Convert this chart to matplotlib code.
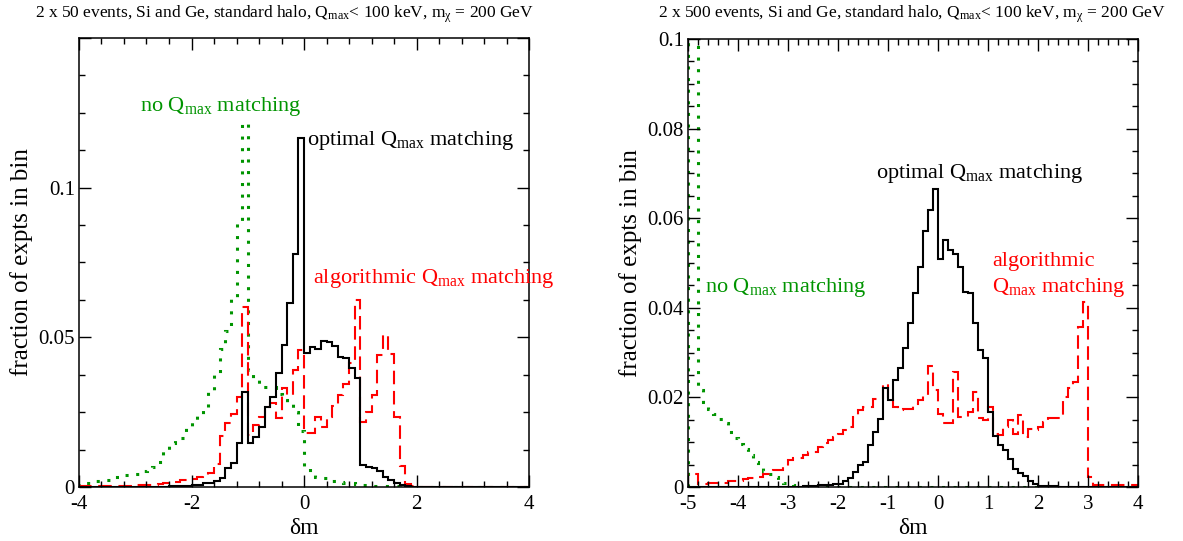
import numpy as np
import matplotlib
matplotlib.use("Agg")
import matplotlib.pyplot as plt
from matplotlib.ticker import MultipleLocator

plt.rcParams["font.family"] = ["Liberation Serif", "DejaVu Serif"]
plt.rcParams["mathtext.fontset"] = "custom"
plt.rcParams["mathtext.rm"] = "Liberation Serif"
plt.rcParams["mathtext.it"] = "Liberation Serif:italic"
plt.rcParams["mathtext.bf"] = "Liberation Serif:bold"
plt.rcParams["axes.unicode_minus"] = False

# ---- left panel: 2 x 50 events, bins of 0.1 from -4 to 4 ----
left_edges = np.round(np.linspace(-4, 4, 81), 2)
left_optimal = [
    0, 0, 0, 0, 0, 0, 0, 0, 0, 0, 0, 0, 0, 0, 0,
    0.0001, 0.0002, 0.0002, 0.0003, 0.0004, 0.0006, 0.0008, 0.0012, 0.0014, 0.002,
    0.003, 0.0062, 0.008, 0.0148, 0.0318, 0.0146, 0.0168, 0.020, 0.0268, 0.030,
    0.038, 0.0474, 0.0616, 0.078, 0.1165, 0.0447, 0.0469, 0.046, 0.0489, 0.0485,
    0.047, 0.0435, 0.043, 0.0397, 0.0363, 0.0073, 0.0068, 0.0062, 0.0052, 0.0034,
    0.0023, 0.0012, 0.0006, 0.0002, 0.0001,
    0, 0, 0, 0, 0, 0, 0, 0, 0, 0, 0, 0, 0, 0, 0, 0, 0, 0, 0, 0,
]
left_algorithmic = [
    0.0003, 0.0003, 0.0002, 0.0002, 0.0003, 0.0003, 0.0004, 0.0004, 0.0005, 0.0005,
    0.0006, 0.0006, 0.0007, 0.0008, 0.001, 0.0012, 0.0015, 0.0018, 0.0022, 0.0025,
    0.0028, 0.0032, 0.004, 0.0047, 0.0078, 0.017, 0.0213, 0.0245, 0.030, 0.0602,
    0.0174, 0.0207, 0.0235, 0.0268, 0.028, 0.023, 0.033, 0.0307, 0.039, 0.0458,
    0.0179, 0.018, 0.0235, 0.0202, 0.0235, 0.027, 0.0307, 0.0345, 0.0413, 0.0625,
    0.0218, 0.0252, 0.0307, 0.0441, 0.0508, 0.0443, 0.0235, 0.0071, 0.001, 0.0004,
    0, 0, 0, 0, 0, 0, 0, 0, 0, 0, 0, 0, 0, 0, 0, 0, 0, 0, 0, 0,
]
left_none = [
    0.0015, 0.0015, 0.002, 0.002, 0.0024, 0.0024, 0.0035, 0.0035, 0.004, 0.004,
    0.0045, 0.0055, 0.0062, 0.0068, 0.0085, 0.0124, 0.0146, 0.0157, 0.0163, 0.020,
    0.0218, 0.024, 0.0263, 0.032, 0.038, 0.046, 0.052, 0.063, 0.089, 0.1215,
    0.039, 0.0357, 0.0335, 0.0335, 0.0335, 0.031, 0.029, 0.028, 0.025, 0.0187,
    0.0063, 0.004, 0.0035, 0.003, 0.0025, 0.002, 0.0017, 0.0014, 0.0012, 0.001,
    0.0008, 0.0006, 0.0005, 0.0004, 0.0003, 0.0002, 0.0002, 0.0001, 0.0001, 0.0001,
    0, 0, 0, 0, 0, 0, 0, 0, 0, 0, 0, 0, 0, 0, 0, 0, 0, 0, 0, 0,
]

# ---- right panel: 2 x 500 events, bins of 0.1 from -5 to 4 ----
right_edges = np.round(np.linspace(-5, 4, 91), 2)
right_optimal = [
    0, 0, 0, 0, 0, 0, 0, 0, 0, 0, 0, 0, 0, 0, 0, 0, 0, 0, 0, 0, 0, 0,
    0.0001, 0.0002, 0.0003, 0.0003, 0.0004, 0.0004, 0.0005, 0.0006, 0.0007, 0.0014,
    0.002, 0.0033, 0.0048, 0.0055, 0.0093, 0.0122, 0.0152, 0.0222, 0.0194, 0.0238,
    0.0265, 0.0311, 0.0365, 0.0434, 0.0492, 0.0571, 0.0618, 0.0665, 0.051, 0.0551,
    0.0529, 0.0521, 0.0492, 0.0436, 0.0432, 0.0365, 0.0306, 0.0287, 0.0168, 0.0113,
    0.0093, 0.0082, 0.0063, 0.0041, 0.0032, 0.0025, 0.0014, 0.0006, 0.0003, 0.0003,
    0.0002, 0.0002, 0.0001, 0.0001,
    0, 0, 0, 0, 0, 0, 0, 0, 0, 0, 0, 0, 0, 0,
]
right_algorithmic = [
    0.003, 0.003, 0.0007, 0.0007, 0.0008, 0.0009, 0.0009, 0.001, 0.0013, 0.0013,
    0.0013, 0.0018, 0.0019, 0.0019, 0.0022, 0.003, 0.003, 0.0039, 0.0039, 0.0045,
    0.006, 0.0064, 0.0064, 0.0071, 0.0078, 0.0078, 0.009, 0.0098, 0.0105, 0.0112,
    0.0118, 0.0127, 0.0134, 0.0157, 0.0171, 0.0179, 0.0179, 0.0197, 0.0197, 0.0231,
    0.0197, 0.0179, 0.0171, 0.0175, 0.0175, 0.0186, 0.0194, 0.0205, 0.027, 0.0216,
    0.0164, 0.0142, 0.0142, 0.0257, 0.0157, 0.0157, 0.0168, 0.0212, 0.0153, 0.015,
    0.0179, 0.0119, 0.0116, 0.0134, 0.015, 0.0119, 0.016, 0.0112, 0.013, 0.0127,
    0.0134, 0.0145, 0.0153, 0.0153, 0.0153, 0.0201, 0.022, 0.0235, 0.0358, 0.0414,
    0.0022, 0.0004, 0.0004, 0.0004, 0.0004, 0.0004, 0.0004, 0.0004, 0.0004, 0.0004,
]
right_none = [
    0.25, 0.25, 0.0216, 0.019, 0.0175, 0.0164, 0.0152, 0.0142, 0.0123, 0.011,
    0.0097, 0.0084, 0.0071, 0.0056, 0.0045, 0.0035, 0.003, 0.0022, 0.0015, 0.001,
    0.0008, 0.0005, 0.0003, 0.0002,
    0, 0, 0, 0, 0, 0, 0, 0, 0, 0, 0, 0, 0, 0, 0, 0, 0, 0, 0, 0, 0, 0,
    0, 0, 0, 0, 0, 0, 0, 0, 0, 0, 0, 0, 0, 0, 0, 0, 0, 0, 0, 0, 0, 0,
    0, 0, 0, 0, 0, 0, 0, 0, 0, 0, 0, 0, 0, 0, 0, 0, 0, 0, 0, 0, 0, 0,
]

GREEN = "#009400"
RED = "#ff0000"
QMAX = r"Q$_{\mathrm{max}}$"

fig = plt.figure(figsize=(11.83, 5.41), dpi=100)
ax1 = fig.add_axes([79 / 1183, 54 / 541, 450 / 1183, 449 / 541])
ax2 = fig.add_axes([688 / 1183, 54 / 541, 450 / 1183, 448 / 541])


def draw_hists(ax, edges, none, opt, alg):
    ax.stairs(none, edges, color=GREEN, lw=2.2, linestyle=(0, (1, 2.8)))
    ax.stairs(alg, edges, color=RED, lw=1.5, linestyle=(0, (6.5, 3.2)))
    ax.stairs(opt, edges, color="black", lw=1.5)


def trim(v, pos):
    return "%g" % round(v, 4)


def style_axes(ax, xmaj, xmin, ymaj, ymin, ytop):
    ax.xaxis.set_major_locator(MultipleLocator(xmaj))
    ax.xaxis.set_minor_locator(MultipleLocator(xmin))
    ax.yaxis.set_major_locator(MultipleLocator(ymaj))
    ax.yaxis.set_minor_locator(MultipleLocator(ymin))
    ax.yaxis.set_major_formatter(plt.FuncFormatter(
        lambda v, p: "" if v > ytop else trim(v, p)))
    ax.tick_params(which="both", direction="in", top=True, right=True,
                   labelsize=15, width=1.0)
    ax.tick_params(which="major", length=8.5)
    ax.tick_params(which="minor", length=4.5)
    ax.tick_params(axis="y", which="major", pad=3)
    ax.tick_params(axis="x", which="major", pad=5.5)
    for s in ax.spines.values():
        s.set_linewidth(1.1)
    ax.set_xlabel("δm", fontsize=17, labelpad=3)
    ax.set_ylabel("fraction of expts in bin", fontsize=18, labelpad=4)


draw_hists(ax1, left_edges, left_none, left_optimal, left_algorithmic)
ax1.set_xlim(-4, 4)
ax1.set_ylim(0, 0.15)
style_axes(ax1, 2, 0.4, 0.05, 0.0125, 0.14)

draw_hists(ax2, right_edges, right_none, right_optimal, right_algorithmic)
ax2.set_xlim(-5, 4)
ax2.set_ylim(0, 0.1)
style_axes(ax2, 1, 0.2, 0.02, 0.005, 0.11)

# annotations
ax1.text(-2.92, 0.1255, "no " + QMAX + " matching", color=GREEN, fontsize=16)
ax1.text(0.05, 0.1142, "optimal " + QMAX + " matching", color="black", fontsize=16)
ax1.text(0.16, 0.0681, "algorithmic " + QMAX + " matching", color=RED, fontsize=16)

ax2.text(-1.24, 0.069, "optimal " + QMAX + " matching", color="black", fontsize=16)
ax2.text(-4.66, 0.0435, "no " + QMAX + " matching", color=GREEN, fontsize=16)
ax2.text(1.08, 0.0493, "algorithmic", color=RED, fontsize=16)
ax2.text(1.08, 0.0435, QMAX + " matching", color=RED, fontsize=16)

# titles
fig.text(285 / 1183, 1 - 18 / 541,
         "2 x 50 events, Si and Ge, standard halo, " + QMAX +
         "< 100 keV, m$_{\\mathrm{χ}}$ = 200 GeV",
         ha="center", va="baseline", fontsize=12.5)
fig.text(912 / 1183, 1 - 18 / 541,
         "2 x 500 events, Si and Ge, standard halo, " + QMAX +
         "< 100 keV, m$_{\\mathrm{χ}}$ = 200 GeV",
         ha="center", va="baseline", fontsize=12.5)

fig.savefig("out.png", dpi=100)
